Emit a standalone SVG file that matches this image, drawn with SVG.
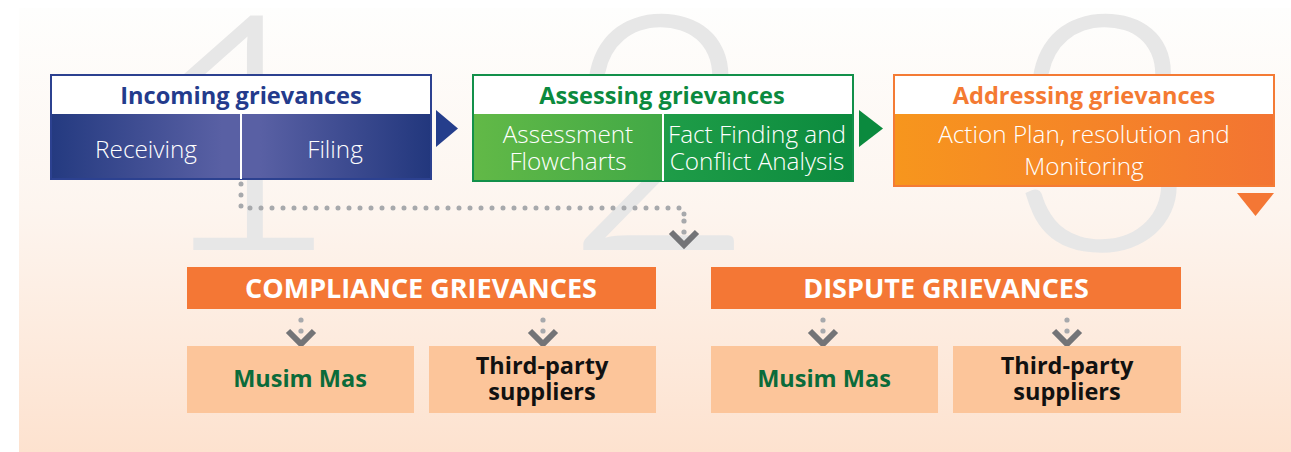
<svg xmlns="http://www.w3.org/2000/svg" width="1291" height="452" viewBox="0 0 1291 452">
<defs>
<linearGradient id="bg" x1="0" y1="0" x2="0" y2="1">
<stop offset="0" stop-color="#fefefd"/>
<stop offset="0.45" stop-color="#fdf5ef"/>
<stop offset="1" stop-color="#fde2cf"/>
</linearGradient>
<linearGradient id="blue" x1="0" y1="0" x2="1" y2="0">
<stop offset="0" stop-color="#243a80"/>
<stop offset="0.45" stop-color="#5960a4"/>
<stop offset="0.55" stop-color="#5960a4"/>
<stop offset="1" stop-color="#22377d"/>
</linearGradient>
<linearGradient id="greenL" x1="0" y1="0" x2="1" y2="0">
<stop offset="0" stop-color="#62b947"/>
<stop offset="1" stop-color="#42a946"/>
</linearGradient>
<linearGradient id="greenR" x1="0" y1="0" x2="1" y2="0">
<stop offset="0" stop-color="#1f9d48"/>
<stop offset="1" stop-color="#0b8a3e"/>
</linearGradient>
<linearGradient id="orange" x1="0" y1="0" x2="1" y2="0">
<stop offset="0" stop-color="#f7961d"/>
<stop offset="1" stop-color="#f37432"/>
</linearGradient>
<g id="chev">
<circle cx="0" cy="-25" r="2.6" fill="#a7a9ac"/>
<circle cx="0" cy="-14" r="2.6" fill="#a7a9ac"/>
<path d="M-13,-14 L0,-1 L13,-14" fill="none" stroke="#737477" stroke-width="6"/>
</g>
</defs>
<style>
.num{font-family:Lato,"Liberation Sans",sans-serif;font-weight:300;font-size:330px;fill:#e7e7e7;text-anchor:middle}
.hd{font-family:"Open Sans","Liberation Sans",sans-serif;font-weight:700;font-size:23.6px;text-anchor:middle}
.lt{font-family:"Open Sans","Liberation Sans",sans-serif;font-weight:300;font-size:24.3px;fill:#ffffff;text-anchor:middle}
.cap{font-family:"Open Sans","Liberation Sans",sans-serif;font-weight:700;font-size:27px;fill:#ffffff;text-anchor:middle}
.sub{font-family:"Open Sans","Liberation Sans",sans-serif;font-weight:700;font-size:23.5px;text-anchor:middle}
.ohd{fill:#f47735}
.sbx{fill:#fcc59a}
</style>
<rect x="19" y="8" width="1272" height="444" fill="url(#bg)"/>
<g id="numbers">
<text class="num" x="245" y="250">1</text>
<text class="num" x="660" y="250">2</text>
<text class="num" x="1103" y="250">3</text>
</g>
<g id="connectors">
<path d="M241,184 L241,208 L684,208 L684,220" fill="none" stroke="#a7a9ac" stroke-width="5" stroke-linecap="round" stroke-dasharray="0 11"/>
<use href="#chev" x="684" y="246"/>
<use href="#chev" x="301" y="345"/>
<use href="#chev" x="543" y="345"/>
<use href="#chev" x="823" y="345"/>
<use href="#chev" x="1067" y="345"/>
<path d="M436,110 L458,128.5 L436,147 Z" fill="#253e8c"/>
<path d="M859,110 L883,128.5 L859,147 Z" fill="#0b8a3e"/>
<path d="M1237,193 L1274,193 L1255.5,216 Z" fill="#f47735"/>
</g>
<g id="incoming">
<rect x="51" y="114" width="380" height="65" fill="url(#blue)"/>
<rect x="51" y="75" width="380" height="104" fill="none" stroke="#2c4190" stroke-width="2"/>
<rect x="52" y="76" width="378" height="38" fill="#ffffff"/>
<line x1="241" y1="114" x2="241" y2="179" stroke="#ffffff" stroke-width="2"/>
<text class="hd" x="241" y="104" fill="#233b8c">Incoming grievances</text>
<text class="lt" x="146" y="158">Receiving</text>
<text class="lt" x="335" y="158">Filing</text>
</g>
<g id="assessing">
<rect x="473" y="114" width="189" height="67" fill="url(#greenL)"/>
<rect x="663" y="114" width="190" height="67" fill="url(#greenR)"/>
<rect x="473" y="75" width="380" height="106" fill="none" stroke="#12904a" stroke-width="2"/>
<rect x="474" y="76" width="378" height="38" fill="#ffffff"/>
<line x1="663" y1="114" x2="663" y2="181" stroke="#ffffff" stroke-width="2"/>
<text class="hd" x="662" y="104" fill="#0b8a3e">Assessing grievances</text>
<text class="lt" x="568" y="143">Assessment</text>
<text class="lt" x="568" y="170">Flowcharts</text>
<text class="lt" x="757" y="143">Fact Finding and</text>
<text class="lt" x="757" y="170">Conflict Analysis</text>
</g>
<g id="addressing">
<rect x="894" y="114" width="380" height="72" fill="url(#orange)"/>
<rect x="894" y="75" width="380" height="111" fill="none" stroke="#f47b35" stroke-width="2"/>
<rect x="895" y="76" width="378" height="38" fill="#ffffff"/>
<text class="hd" x="1084" y="104" fill="#f47a32">Addressing grievances</text>
<text class="lt" x="1084" y="143">Action Plan, resolution and</text>
<text class="lt" x="1084" y="175">Monitoring</text>
</g>
<g id="compliance">
<rect class="ohd" x="187" y="267" width="469" height="42"/>
<text class="cap" x="421" y="298">COMPLIANCE GRIEVANCES</text>
</g>
<g id="compliance-musim">
<rect class="sbx" x="187" y="346" width="227" height="67"/>
<text class="sub" x="300" y="387" fill="#0b6b3a">Musim Mas</text>
</g>
<g id="compliance-third">
<rect class="sbx" x="429" y="346" width="227" height="67"/>
<text class="sub" x="542" y="374" fill="#111111">Third-party</text>
<text class="sub" x="542" y="400" fill="#111111">suppliers</text>
</g>
<g id="dispute">
<rect class="ohd" x="711" y="267" width="470" height="42"/>
<text class="cap" x="946" y="298">DISPUTE GRIEVANCES</text>
</g>
<g id="dispute-musim">
<rect class="sbx" x="711" y="346" width="227" height="67"/>
<text class="sub" x="824" y="387" fill="#0b6b3a">Musim Mas</text>
</g>
<g id="dispute-third">
<rect class="sbx" x="953" y="346" width="228" height="67"/>
<text class="sub" x="1067" y="374" fill="#111111">Third-party</text>
<text class="sub" x="1067" y="400" fill="#111111">suppliers</text>
</g>
</svg>
